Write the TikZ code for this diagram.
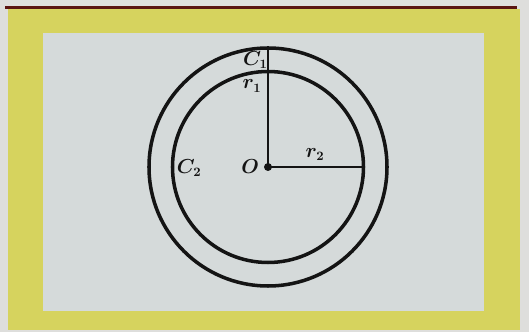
\documentclass[tikz,border=0pt]{standalone}
\usepackage{tikz}
\usetikzlibrary{positioning,calc}
\definecolor{paper}{HTML}{DEDEDC}
\definecolor{frame}{HTML}{D6D35E}
\definecolor{panel}{HTML}{D5DADA}
\definecolor{rule}{HTML}{5A1410}
\definecolor{ink}{HTML}{141414}
\tikzset{
  ring/.style={draw=ink,line width=3pt},
  radius_line/.style={draw=ink,line width=1.8pt},
  centre_dot/.style={circle,fill=ink,inner sep=0pt,minimum size=0.24cm},
  lbl/.style={text=ink,inner sep=1pt,font=\fontsize{16}{18}\selectfont\boldmath},
}

\begin{document}
\begin{tikzpicture}
    % page and printed frame
    \fill[paper] (0,0) rectangle (15.87,9.96);
    \useasboundingbox (0,0) rectangle (15.87,9.96);
    \fill[frame] (0.24,0.06) rectangle (15.60,9.69);
    \fill[panel] (1.29,0.63) rectangle (14.52,8.97);
    \fill[rule] (0.15,9.69) rectangle (15.50,9.78);

    % circles
    \node[centre_dot] (O) at (8.04,4.95) {};
    \draw[ring] (O.center) circle (3.57cm);
    \draw[ring] (O.center) circle (2.865cm);
    \coordinate (top) at ($(O.center)+(0,3.57)$);
    \coordinate (right) at ($(O.center)+(2.865,0)$);
    \draw[radius_line](O.center)--(top);\draw[radius_line](O.center)--(right);

    % labels
    \node[lbl] (c1) at (7.66,8.17) {$C_1$};
    \node[lbl] (r1) at (7.56,7.38) {$r_1$};
    \node[lbl] (r2) at (9.45,5.33) {$r_2$};
    \node[lbl] (c2) at (5.67,4.93) {$C_2$};
    \node[lbl,left=0.1cm of O] (olbl) {$O$};
\end{tikzpicture}
\end{document}
